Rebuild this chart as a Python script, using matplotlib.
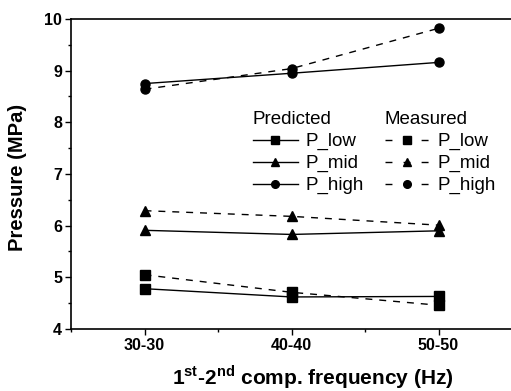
import matplotlib.pyplot as plt
from matplotlib.lines import Line2D

plt.rcParams['font.family'] = ['Liberation Sans', 'DejaVu Sans']
plt.rcParams['mathtext.fontset'] = 'custom'
plt.rcParams['mathtext.rm'] = 'Liberation Sans:bold'

categories = ["30-30", "40-40", "50-50"]
series_names = ["P_low", "P_mid", "P_high"]
markers = ["s", "^", "o"]

predicted_low = [4.78, 4.62, 4.63]
predicted_mid = [5.91, 5.83, 5.90]
predicted_high = [8.75, 8.95, 9.16]

measured_low = [5.05, 4.71, 4.46]
measured_mid = [6.29, 6.18, 6.01]
measured_high = [8.64, 9.04, 9.82]

predicted = [predicted_low, predicted_mid, predicted_high]
measured = [measured_low, measured_mid, measured_high]

fig = plt.figure(figsize=(5.11, 3.91), dpi=100)
ax = fig.add_axes([0.139, 0.1586, 0.863, 0.7928])

x = list(range(len(categories)))
pred_handles = []
meas_handles = []
for name, m, p, q in zip(series_names, markers, predicted, measured):
    ax.plot(x, p, color="black", linestyle="-", linewidth=1.0,
            marker=m, markersize=6.5)
    ax.plot(x, q, color="black", linestyle=(0, (5, 5)), linewidth=1.0,
            marker=m, markersize=6.5)
    # legend proxies
    pred_handles.append(Line2D([], [], color="black", linestyle="-",
                               linewidth=1.0, marker=m, markersize=5.5))
    meas_handles.append(Line2D([], [], color="black", linestyle=(0, (5, 8)),
                               linewidth=1.0, marker=m, markersize=5.5))

ax.set_xlim(-0.5, 2.5)
ax.set_ylim(4, 10)
ax.set_xticks(x)
ax.set_xticklabels(categories)
ax.set_xticks([-0.5, 0.5, 1.5, 2.5], minor=True)
ax.set_yticks([4, 5, 6, 7, 8, 9, 10])
ax.set_yticks([4.5, 5.5, 6.5, 7.5, 8.5, 9.5], minor=True)
ax.tick_params(axis="both", which="major", direction="out", length=4,
               width=1, labelsize=11.5, pad=2.5)
ax.tick_params(axis="both", which="minor", direction="out", length=2.5,
               width=1)
for lab in ax.get_xticklabels() + ax.get_yticklabels():
    lab.set_fontweight("bold")
ax.spines["right"].set_visible(False)
for s in ["left", "bottom", "top"]:
    ax.spines[s].set_linewidth(1.2)

ax.set_ylabel("Pressure (MPa)", fontsize=14.5, fontweight="bold")
ax.yaxis.set_label_coords(-0.1, 0.49)
ax.set_xlabel(r"1$^{\mathrm{st}}$-2$^{\mathrm{nd}}$ comp. frequency (Hz)",
              fontsize=15, fontweight="bold")
ax.xaxis.set_label_coords(0.548, -0.11)

leg_kw = dict(loc="upper left", frameon=False, fontsize=13.5,
              title_fontsize=13.5, handlelength=2.4, handletextpad=0.4,
              labelspacing=0.25, alignment="left", borderpad=0,
              borderaxespad=0)
fig.legend(handles=pred_handles, labels=series_names, title="Predicted",
           bbox_to_anchor=(0.495, 0.715), **leg_kw)
fig.legend(handles=meas_handles, labels=series_names, title="Measured",
           bbox_to_anchor=(0.753, 0.715), **leg_kw)

fig.savefig("out.png", dpi=100)
